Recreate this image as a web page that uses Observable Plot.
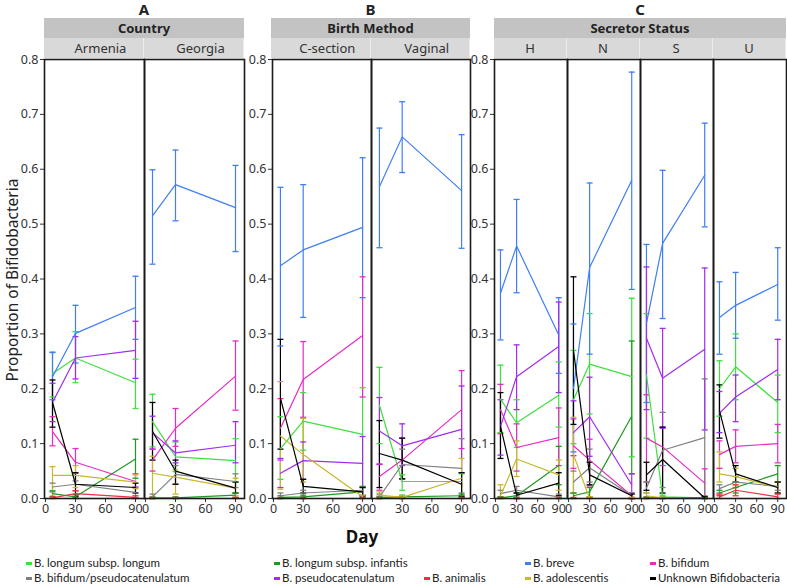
<!DOCTYPE html>
<html>
<head>
<meta charset="utf-8">
<script src="https://cdn.jsdelivr.net/npm/d3@7"></script>
<script src="https://cdn.jsdelivr.net/npm/@observablehq/plot@0.6"></script>
<style>
  body { margin: 0; background: #fff; }
  #root { position: relative; width: 787px; height: 586px; overflow: hidden; font-family: "Noto Sans", sans-serif; color: #222; }
  .abs { position: absolute; }
  .title { font-weight: bold; font-size: 15px; text-align: center; line-height: 17px; height: 17px; }
  .strip1 { background: #c3c3c3; font-weight: bold; font-size: 13px; text-align: center; line-height: 20px; height: 20px; }
  .strip2 { background: #d9d9d9; font-size: 13px; line-height: 20px; height: 20px; box-sizing: border-box; border-right: 1px solid #ececec; color: #333; }
  .leg { font-family: Lato, sans-serif; font-size: 11.5px; line-height: 14px; white-space: nowrap; color: #222; }
  .sw { position: absolute; width: 6px; height: 3px; }
</style>
</head>
<body>
<div id="root"></div>
<script>
// ---------------- data ----------------
const days = [7, 30, 90];
const seriesNames = [
  "B. longum subsp. longum", "B. longum subsp. infantis", "B. breve", "B. bifidum",
  "B. bifidum/pseudocatenulatum", "B. pseudocatenulatum", "B. animalis", "B. adolescentis",
  "Unknown Bifidobacteria"
];
const seriesColors = ["#3de03d", "#1e9a1e", "#3f7ef5", "#e62cc4", "#808080", "#a22cf0", "#f03040", "#c8b82a", "#000000"];
const xTicks = [0, 30, 60, 90];
const yTicks = [0, 0.1, 0.2, 0.3, 0.4, 0.5, 0.6, 0.7, 0.8];

// each row: [mean7, lo7, hi7, mean30, lo30, hi30, mean90, lo90, hi90], in seriesNames order
const armenia = [
  [0.228, 0.185, 0.267, 0.256, 0.211, 0.304, 0.211, 0.164, 0.254],
  [0.009, 0.004, 0.014, 0.003, 0.000, 0.007, 0.072, 0.037, 0.108],
  [0.222, 0.180, 0.266, 0.301, 0.247, 0.352, 0.348, 0.290, 0.405],
  [0.122, 0.096, 0.149, 0.066, 0.046, 0.091, 0.031, 0.021, 0.045],
  [0.021, 0.012, 0.028, 0.026, 0.014, 0.032, 0.011, 0.002, 0.020],
  [0.175, 0.140, 0.210, 0.256, 0.218, 0.295, 0.270, 0.219, 0.323],
  [0.001, 0.000, 0.003, 0.009, 0.004, 0.014, 0.002, 0.000, 0.005],
  [0.042, 0.000, 0.058, 0.042, 0.020, 0.060, 0.030, 0.018, 0.043],
  [0.175, 0.130, 0.216, 0.026, 0.003, 0.047, 0.020, 0.010, 0.028]
];
const georgia = [
  [0.140, 0.094, 0.190, 0.076, 0.049, 0.103, 0.069, 0.030, 0.109],
  [0.001, 0.000, 0.003, 0.001, 0.000, 0.003, 0.006, 0.002, 0.010],
  [0.515, 0.427, 0.599, 0.572, 0.506, 0.635, 0.530, 0.450, 0.607],
  [0.070, 0.050, 0.090, 0.128, 0.095, 0.164, 0.223, 0.161, 0.287],
  [0.003, 0.000, 0.008, 0.044, 0.026, 0.060, 0.031, 0.020, 0.045],
  [0.120, 0.090, 0.150, 0.083, 0.065, 0.105, 0.097, 0.065, 0.140],
  [0.000, 0.000, 0.002, 0.000, 0.000, 0.002, 0.000, 0.000, 0.002],
  [0.046, 0.000, 0.077, 0.039, 0.008, 0.052, 0.019, 0.005, 0.037],
  [0.122, 0.070, 0.175, 0.050, 0.026, 0.070, 0.019, 0.010, 0.030]
];
const csection = [
  [0.091, 0.035, 0.149, 0.141, 0.088, 0.193, 0.117, 0.021, 0.202],
  [0.002, 0.000, 0.005, 0.003, 0.000, 0.006, 0.012, 0.003, 0.022],
  [0.424, 0.278, 0.567, 0.453, 0.330, 0.572, 0.494, 0.366, 0.621],
  [0.128, 0.070, 0.182, 0.217, 0.148, 0.286, 0.297, 0.185, 0.404],
  [0.005, 0.000, 0.010, 0.010, 0.003, 0.015, 0.015, 0.005, 0.020],
  [0.046, 0.020, 0.073, 0.069, 0.035, 0.103, 0.064, 0.006, 0.113],
  [0.000, 0.000, 0.002, 0.000, 0.000, 0.002, 0.000, 0.000, 0.002],
  [0.114, 0.017, 0.213, 0.080, 0.030, 0.146, 0.003, 0.000, 0.006],
  [0.183, 0.090, 0.290, 0.022, 0.010, 0.035, 0.012, 0.005, 0.020]
];
const vaginal = [
  [0.170, 0.100, 0.239, 0.031, 0.015, 0.043, 0.031, 0.005, 0.045],
  [0.002, 0.000, 0.004, 0.003, 0.000, 0.006, 0.005, 0.002, 0.008],
  [0.568, 0.457, 0.675, 0.659, 0.594, 0.723, 0.561, 0.456, 0.663],
  [0.040, 0.015, 0.063, 0.070, 0.035, 0.110, 0.162, 0.091, 0.233],
  [0.003, 0.000, 0.008, 0.062, 0.035, 0.090, 0.055, 0.010, 0.109],
  [0.123, 0.062, 0.184, 0.096, 0.060, 0.136, 0.126, 0.047, 0.205],
  [0.000, 0.000, 0.002, 0.000, 0.000, 0.002, 0.000, 0.000, 0.002],
  [0.006, 0.000, 0.012, 0.002, 0.000, 0.005, 0.037, 0.005, 0.073],
  [0.082, 0.020, 0.142, 0.070, 0.036, 0.110, 0.026, 0.004, 0.047]
];
const secH = [
  [0.181, 0.120, 0.243, 0.138, 0.093, 0.180, 0.188, 0.130, 0.249],
  [0.001, 0.000, 0.003, 0.005, 0.000, 0.010, 0.060, 0.025, 0.095],
  [0.374, 0.289, 0.453, 0.460, 0.375, 0.545, 0.298, 0.228, 0.366],
  [0.162, 0.118, 0.208, 0.093, 0.050, 0.136, 0.111, 0.060, 0.165],
  [0.009, 0.003, 0.015, 0.015, 0.005, 0.022, 0.003, 0.000, 0.008],
  [0.131, 0.079, 0.180, 0.222, 0.162, 0.280, 0.277, 0.193, 0.358],
  [0.000, 0.000, 0.002, 0.000, 0.000, 0.002, 0.000, 0.000, 0.002],
  [0.005, 0.000, 0.025, 0.072, 0.040, 0.105, 0.043, 0.015, 0.070],
  [0.132, 0.073, 0.193, 0.006, 0.000, 0.010, 0.028, 0.005, 0.047]
];
const secN = [
  [0.180, 0.100, 0.270, 0.245, 0.154, 0.337, 0.222, 0.076, 0.365],
  [0.005, 0.000, 0.010, 0.012, 0.003, 0.020, 0.150, 0.045, 0.287],
  [0.200, 0.085, 0.318, 0.421, 0.263, 0.575, 0.580, 0.381, 0.777],
  [0.096, 0.055, 0.145, 0.070, 0.023, 0.108, 0.005, 0.000, 0.010],
  [0.030, 0.010, 0.050, 0.056, 0.030, 0.090, 0.005, 0.000, 0.010],
  [0.120, 0.078, 0.178, 0.149, 0.077, 0.221, 0.025, 0.000, 0.045],
  [0.000, 0.000, 0.002, 0.000, 0.000, 0.002, 0.000, 0.000, 0.002],
  [0.080, 0.010, 0.148, 0.000, 0.000, 0.003, 0.000, 0.000, 0.002],
  [0.270, 0.135, 0.404, 0.043, 0.025, 0.066, 0.005, 0.000, 0.008]
];
const secS = [
  [0.225, 0.110, 0.337, 0.003, 0.000, 0.006, 0.001, 0.000, 0.003],
  [0.001, 0.000, 0.003, 0.001, 0.000, 0.003, 0.001, 0.000, 0.003],
  [0.319, 0.175, 0.463, 0.465, 0.328, 0.598, 0.589, 0.495, 0.684],
  [0.110, 0.030, 0.189, 0.094, 0.060, 0.130, 0.028, 0.003, 0.054],
  [0.019, 0.010, 0.030, 0.088, 0.020, 0.157, 0.111, 0.005, 0.218],
  [0.292, 0.162, 0.422, 0.219, 0.128, 0.310, 0.272, 0.125, 0.420],
  [0.000, 0.000, 0.002, 0.000, 0.000, 0.002, 0.000, 0.000, 0.002],
  [0.005, 0.000, 0.010, 0.001, 0.000, 0.003, 0.000, 0.000, 0.002],
  [0.043, 0.015, 0.066, 0.071, 0.010, 0.130, 0.001, 0.000, 0.003]
];
const secU = [
  [0.200, 0.150, 0.251, 0.240, 0.180, 0.300, 0.175, 0.120, 0.225],
  [0.010, 0.005, 0.015, 0.020, 0.010, 0.030, 0.045, 0.030, 0.060],
  [0.330, 0.263, 0.395, 0.352, 0.292, 0.412, 0.390, 0.325, 0.457],
  [0.080, 0.055, 0.105, 0.095, 0.065, 0.125, 0.100, 0.065, 0.135],
  [0.018, 0.010, 0.025, 0.030, 0.020, 0.040, 0.022, 0.015, 0.030],
  [0.155, 0.120, 0.195, 0.185, 0.140, 0.225, 0.235, 0.180, 0.290],
  [0.003, 0.000, 0.008, 0.015, 0.005, 0.025, 0.003, 0.000, 0.008],
  [0.045, 0.030, 0.085, 0.040, 0.025, 0.055, 0.020, 0.010, 0.030],
  [0.160, 0.110, 0.207, 0.045, 0.030, 0.060, 0.020, 0.010, 0.030]
];

const groupTitles = ["A", "B", "C"];
const groupHeaders = ["Country", "Birth Method", "Secretor Status"];
const panelsA = ["Armenia", "Georgia"];
const panelsB = ["C-section", "Vaginal"];
const panelsC = ["H", "N", "S", "U"];
const tablesA = [armenia, georgia];
const tablesB = [csection, vaginal];
const tablesC = [secH, secN, secS, secU];

// ---------------- build ----------------
function toRows(panels, tables) {
  const out = [];
  panels.forEach((p, pi) => {
    tables[pi].forEach((row, si) => {
      days.forEach((d, di) => {
        out.push({panel: p, series: seriesNames[si], day: d,
          value: row[di * 3], lo: row[di * 3 + 1], hi: row[di * 3 + 2]});
      });
    });
  });
  return out;
}

const capSymbol = {
  draw(context, size) {
    const r = Math.sqrt(size / Math.PI);
    context.moveTo(-r, 0);
    context.lineTo(r, 0);
  }
};

const FONT = "'Noto Sans', sans-serif";
const root = document.getElementById("root");

function makeGroup(panels, tables, cfg) {
  const data = toRows(panels, tables);
  const plotW = cfg.plotW;
  const chart = Plot.plot({
    width: cfg.marginLeft + plotW + cfg.marginRight,
    height: 474,
    marginLeft: cfg.marginLeft,
    marginRight: cfg.marginRight,
    marginTop: 9,
    marginBottom: 26,
    style: {fontFamily: FONT, fontSize: "12.5px", color: "#333", background: "transparent", overflow: "visible"},
    fx: {domain: panels, padding: 0, axis: null, label: null},
    x: {domain: cfg.xDomain, ticks: xTicks, tickFormat: d => String(d), label: null, tickSize: 4, tickPadding: 2},
    y: {domain: [0, 0.8], ticks: yTicks, tickFormat: d => d.toFixed(1), label: null, tickSize: 4, tickPadding: 2},
    color: {domain: seriesNames, range: seriesColors},
    marks: [
      Plot.axisY({ticks: yTicks, tickFormat: d => d.toFixed(1), tickSize: 4, tickPadding: 2, label: null, facetAnchor: "left"}),
      Plot.axisX({ticks: xTicks, tickFormat: d => String(d), tickSize: 4, tickPadding: 2, label: null}),
      Plot.ruleX(data, {fx: "panel", x: "day", y1: "lo", y2: "hi", stroke: "series", strokeWidth: 1.2}),
      Plot.dot(data, {fx: "panel", x: "day", y: "lo", stroke: "series", symbol: capSymbol, r: 3, strokeWidth: 1.3, fill: "none"}),
      Plot.dot(data, {fx: "panel", x: "day", y: "hi", stroke: "series", symbol: capSymbol, r: 3, strokeWidth: 1.3, fill: "none"}),
      Plot.line(data, {fx: "panel", x: "day", y: "value", stroke: "series", z: "series", strokeWidth: 1.2}),
      Plot.frame({stroke: "#1a1a1a", strokeWidth: 1.6})
    ]
  });
  const holder = document.createElement("div");
  holder.className = "abs";
  holder.style.left = cfg.left + "px";
  holder.style.top = "50px";
  holder.appendChild(chart);
  root.appendChild(holder);

  // headers
  const x0 = cfg.left + cfg.marginLeft;
  const t = document.createElement("div");
  t.className = "abs title";
  t.style.left = x0 + "px"; t.style.width = plotW + "px"; t.style.top = "1px";
  t.textContent = cfg.title;
  root.appendChild(t);
  const s1 = document.createElement("div");
  s1.className = "abs strip1";
  s1.style.left = x0 + "px"; s1.style.width = plotW + "px"; s1.style.top = "18px";
  s1.textContent = cfg.header;
  root.appendChild(s1);
  const pw = plotW / panels.length;
  panels.forEach((p, i) => {
    const s2 = document.createElement("div");
    s2.className = "abs strip2";
    s2.style.left = (x0 + i * pw) + "px"; s2.style.width = pw + "px"; s2.style.top = "38px";
    s2.style.paddingLeft = cfg.labelShift + "px";
    s2.style.textAlign = "center";
    s2.textContent = p;
    root.appendChild(s2);
  });
}

makeGroup(panelsA, tablesA, {left: 0, marginLeft: 44, marginRight: 2, plotW: 200, xDomain: [-1, 99], title: groupTitles[0], header: groupHeaders[0], labelShift: 14});
makeGroup(panelsB, tablesB, {left: 230, marginLeft: 41, marginRight: 2, plotW: 199, xDomain: [-1, 99], title: groupTitles[1], header: groupHeaders[1], labelShift: 14});
makeGroup(panelsC, tablesC, {left: 453, marginLeft: 41, marginRight: 1, plotW: 292, xDomain: [-1.5, 102.5], title: groupTitles[2], header: groupHeaders[2], labelShift: 0});

// axis titles
const yt = document.createElement("div");
yt.style.cssText = "position:absolute;left:12px;top:280px;transform:translate(-50%,-50%) rotate(-90deg);font-size:15.5px;white-space:nowrap;color:#222;";
yt.textContent = "Proportion of Bifidobacteria";
root.appendChild(yt);

const xt = document.createElement("div");
xt.style.cssText = "position:absolute;left:362px;top:536px;transform:translate(-50%,-50%);font-size:17px;font-weight:bold;color:#111;";
xt.textContent = "Day";
root.appendChild(xt);

// legend
const legendPos = [[26, 563], [274, 563], [525, 563], [650, 563], [26, 578], [274, 578], [424, 578], [525, 578], [650, 578]];
seriesNames.forEach((name, i) => {
  const [lx, ly] = legendPos[i];
  const sw = document.createElement("div");
  sw.className = "sw";
  sw.style.left = lx + "px"; sw.style.top = (ly - 1.5) + "px"; sw.style.background = seriesColors[i];
  root.appendChild(sw);
  const tx = document.createElement("div");
  tx.className = "abs leg";
  tx.style.left = (lx + 8) + "px"; tx.style.top = (ly - 7) + "px";
  tx.textContent = name;
  root.appendChild(tx);
});
</script>
</body>
</html>
